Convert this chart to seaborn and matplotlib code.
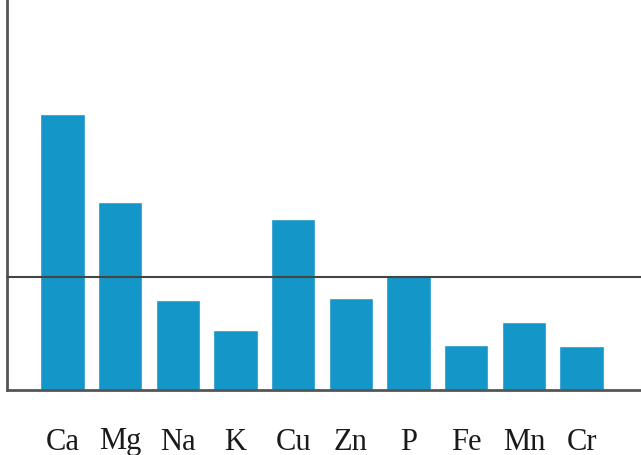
import matplotlib
matplotlib.use("Agg")
import matplotlib.pyplot as plt
import pandas as pd
import seaborn as sns

ELEMENTS = ["Ca", "Mg", "Na", "K", "Cu", "Zn", "P", "Fe", "Mn", "Cr"]
VALUES = [2.44, 1.66, 0.80, 0.53, 1.51, 0.81, 1.02, 0.40, 0.60, 0.39]
REF_LEVEL = 1.0

BAR_COLOR = "#1496c8"
AXIS_COLOR = "#555555"


def main():
    sns.set_style("white")
    plt.rcParams["font.family"] = ["Liberation Serif", "DejaVu Serif"]

    df = pd.DataFrame({"Element": ELEMENTS, "Value": VALUES})

    fig = plt.figure(figsize=(6.41, 4.55), dpi=100)
    ax = fig.add_axes([7 / 641, 65 / 455, 634 / 641, 390 / 455])

    sns.barplot(data=df, x="Element", y="Value", color=BAR_COLOR,
                width=0.77, saturation=1, ax=ax)

    ax.axhline(REF_LEVEL, color="#444444", linewidth=1.5, zorder=3)

    ax.set_xlim(-0.96, 10.03)
    ax.set_ylim(0, 3.45)
    ax.set_xlabel("")
    ax.set_ylabel("")
    ax.set_yticks([])

    for side in ("top", "right"):
        ax.spines[side].set_visible(False)
    for side in ("left", "bottom"):
        ax.spines[side].set_color(AXIS_COLOR)
        ax.spines[side].set_linewidth(2)

    ax.tick_params(axis="x", length=0, pad=27, labelsize=22, colors="#1a1a1a")

    fig.savefig("out.png", dpi=100)


if __name__ == "__main__":
    main()
